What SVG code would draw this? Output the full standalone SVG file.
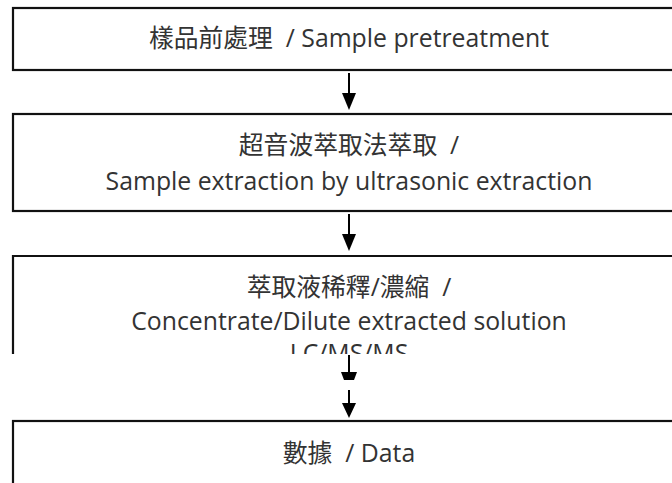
<svg xmlns="http://www.w3.org/2000/svg" width="672" height="483" viewBox="0 0 672 483">
<style>
.box{fill:#fff;stroke:#111;stroke-width:2.2}
.t{font-family:"Open Sans","Noto Sans CJK TC",sans-serif;font-size:24.8px;fill:#333;text-anchor:middle}
.stem{stroke:#000;stroke-width:2}
.head{fill:#000}
</style>
<defs>
<clipPath id="cut"><rect x="0" y="0" width="672" height="354"/></clipPath>
</defs>
<rect width="672" height="483" fill="#fff"/>
<g id="connectors">
<line class="stem" x1="349" y1="73" x2="349" y2="95"/>
<polygon class="head" points="342,93 356,93 349,110"/>
<line class="stem" x1="349" y1="214" x2="349" y2="236"/>
<polygon class="head" points="342,234 356,234 349,251"/>
<line class="stem" x1="349" y1="355" x2="349" y2="373"/>
<polygon class="head" points="341,372 357,372 354,380 344,380"/>
<line class="stem" x1="349" y1="390" x2="349" y2="405"/>
<polygon class="head" points="342,403 356,403 349,418"/>
</g>
<g id="n1">
<rect class="box" x="13" y="8" width="690" height="62"/>
<text class="t" x="349" y="47" xml:space="preserve">樣品前處理  / Sample pretreatment</text>
</g>
<g id="n2">
<rect class="box" x="13" y="114" width="690" height="97"/>
<text class="t" x="349" y="154" xml:space="preserve">超音波萃取法萃取  /</text>
<text class="t" x="349" y="190">Sample extraction by ultrasonic extraction</text>
</g>
<g id="n3">
<path class="box" d="M13,354 V256 H703 V354" fill="none"/>
<text class="t" x="349" y="296" xml:space="preserve">萃取液稀釋/濃縮  /</text>
<text class="t" x="349" y="330">Concentrate/Dilute extracted solution</text>
<text class="t" x="349" y="362" clip-path="url(#cut)">LC/MS/MS</text>
</g>
<g id="n4">
<rect class="box" x="13" y="421" width="690" height="80"/>
<text class="t" x="349" y="462" xml:space="preserve">數據  / Data</text>
</g>
</svg>
